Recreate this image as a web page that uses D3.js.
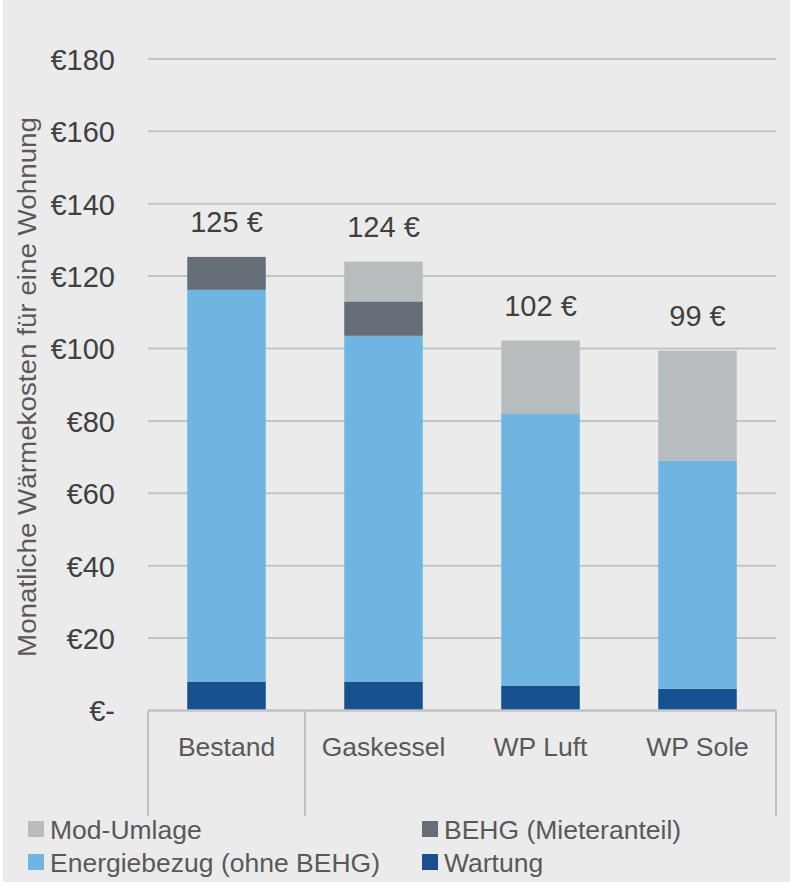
<!DOCTYPE html>
<html>
<head>
<meta charset="utf-8">
<script src="https://cdn.jsdelivr.net/npm/d3@7/dist/d3.min.js"></script>
<style>
  html, body { margin: 0; padding: 0; background: #ffffff; }
  svg { display: block; }
</style>
</head>
<body>
<svg id="chart" width="793" height="886"></svg>
<script>
// ---- data ----
const categories = ["Bestand", "Gaskessel", "WP Luft", "WP Sole"];
const groups = [["Bestand"], ["Gaskessel", "WP Luft", "WP Sole"]];
const seriesNames = ["Wartung", "Energiebezug (ohne BEHG)", "BEHG (Mieteranteil)", "Mod-Umlage"];
const wartung = [8.0, 8.0, 6.9, 6.0];
const energiebezug = [108.2, 95.5, 75.0, 63.0];
const behg = [9.1, 9.5, 0, 0];
const modUmlage = [0, 11.0, 20.3, 30.4];
const totalLabels = ["125 €", "124 €", "102 €", "99 €"];
const yTicks = [0, 20, 40, 60, 80, 100, 120, 140, 160, 180];
const yTitle = "Monatliche Wärmekosten für eine Wohnung";
const legendOrder = ["Mod-Umlage", "BEHG (Mieteranteil)", "Energiebezug (ohne BEHG)", "Wartung"];

const colors = {
  "Wartung": "#16508f",
  "Energiebezug (ohne BEHG)": "#6eb6e1",
  "BEHG (Mieteranteil)": "#656d77",
  "Mod-Umlage": "#b7bcbf"
};

// ---- build table ----
const valuesBySeries = {
  "Wartung": wartung,
  "Energiebezug (ohne BEHG)": energiebezug,
  "BEHG (Mieteranteil)": behg,
  "Mod-Umlage": modUmlage
};
const table = categories.map((c, i) => {
  const row = { cat: c };
  seriesNames.forEach(s => row[s] = valuesBySeries[s][i]);
  return row;
});
const stacked = d3.stack().keys(seriesNames)(table);

// ---- layout ----
const svg = d3.select("#chart");
const plotLeft = 148, plotRight = 776;
const yBottom = 710.5, yTop = 58.9;

svg.append("rect").attr("x", 3).attr("y", 0).attr("width", 787).attr("height", 882)
  .attr("fill", "#ebebeb");

const x = d3.scaleBand().domain(categories).range([plotLeft, plotRight]).paddingInner(0.5).paddingOuter(0.25);
const xOuter = d3.scaleBand().domain(categories).range([plotLeft, plotRight]).padding(0);
const y = d3.scaleLinear().domain([0, 180]).range([yBottom, yTop]);

// gridlines
svg.append("g").selectAll("line").data(yTicks.filter(t => t > 0)).join("line")
  .attr("x1", plotLeft).attr("x2", plotRight)
  .attr("y1", d => y(d)).attr("y2", d => y(d))
  .attr("stroke", "#c1c4c6").attr("stroke-width", 2);

// y tick labels
const yAxis = d3.axisLeft(y).tickValues(yTicks)
  .tickFormat(d => d === 0 ? "€-" : "€" + d).tickSize(0).tickPadding(0);
const gy = svg.append("g").attr("transform", `translate(115,0)`).call(yAxis);
gy.select(".domain").remove();
gy.selectAll("text").attr("font-family", "Liberation Sans, Arial, sans-serif")
  .attr("font-size", 29).attr("fill", "#404040").attr("dy", "0.36em");

// bars
svg.append("g").selectAll("g").data(stacked).join("g")
  .attr("fill", d => colors[d.key])
  .selectAll("rect").data(d => d.filter(p => p[1] - p[0] > 0)).join("rect")
  .attr("x", d => x(d.data.cat))
  .attr("width", x.bandwidth())
  .attr("y", d => y(d[1]))
  .attr("height", d => y(d[0]) - y(d[1]));

// axis baseline
svg.append("line").attr("x1", plotLeft).attr("x2", plotRight)
  .attr("y1", y(0)).attr("y2", y(0)).attr("stroke", "#bfc2c4").attr("stroke-width", 2.5);

// group separators (multi-level category axis)
const sepX = [plotLeft];
let idx = 0;
groups.forEach(g => { idx += g.length; sepX.push(xOuter(categories[idx - 1]) + xOuter.bandwidth()); });
svg.append("g").selectAll("line").data(sepX).join("line")
  .attr("x1", d => d).attr("x2", d => d)
  .attr("y1", y(0)).attr("y2", 816)
  .attr("stroke", "#bfc2c4").attr("stroke-width", 2);

// category labels
svg.append("g").selectAll("text").data(categories).join("text")
  .attr("x", d => x(d) + x.bandwidth() / 2)
  .attr("y", 756)
  .attr("text-anchor", "middle")
  .attr("font-family", "Liberation Sans, Arial, sans-serif")
  .attr("font-size", 26.5).attr("fill", "#595959")
  .text(d => d);

// total labels
svg.append("g").selectAll("text").data(table).join("text")
  .attr("x", d => x(d.cat) + x.bandwidth() / 2)
  .attr("y", d => y(seriesNames.reduce((s, k) => s + d[k], 0)) - 25)
  .attr("text-anchor", "middle")
  .attr("font-family", "Liberation Sans, Arial, sans-serif")
  .attr("font-size", 29).attr("fill", "#404040")
  .text((d, i) => totalLabels[i]);

// y title
svg.append("text")
  .attr("transform", `translate(36,387) rotate(-90)`)
  .attr("text-anchor", "middle")
  .attr("font-family", "Liberation Sans, Arial, sans-serif")
  .attr("font-size", 26).attr("fill", "#595959")
  .attr("textLength", 540).attr("lengthAdjust", "spacingAndGlyphs")
  .text(yTitle);

// legend
const legPos = [[28, 829], [422, 829], [28, 862], [422, 862]];
const leg = svg.append("g").selectAll("g").data(legendOrder).join("g")
  .attr("transform", (d, i) => `translate(${legPos[i][0]},${legPos[i][1]})`);
leg.append("rect").attr("x", 0).attr("y", -8).attr("width", 16).attr("height", 16)
  .attr("fill", d => colors[d]);
leg.append("text").attr("x", 22).attr("y", 0).attr("dy", "0.36em")
  .attr("font-family", "Liberation Sans, Arial, sans-serif")
  .attr("font-size", 26.5).attr("fill", "#595959")
  .text(d => d);
</script>
</body>
</html>
